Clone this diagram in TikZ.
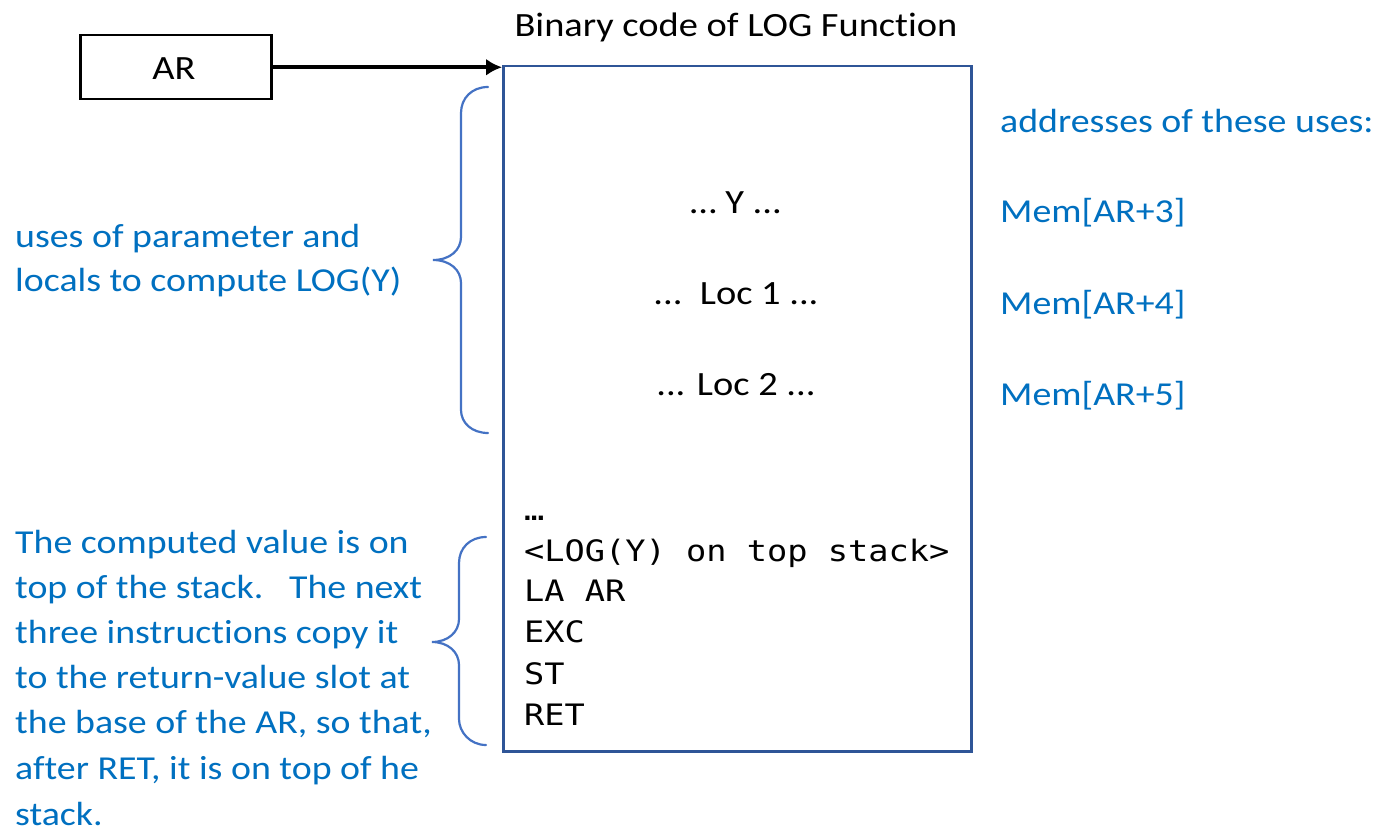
\documentclass[tikz,border=0pt]{standalone}
\usepackage{fontspec}
\setmainfont{Carlito}[FakeStretch=1.13, Ligatures={NoCommon,NoContextual}, RawFeature={-liga;-dlig;-clig}]
\newfontfamily\codemono{DejaVu Sans Mono}[FakeStretch=1.14]
\usetikzlibrary{arrows.meta}
\definecolor{txtblue}{HTML}{0070C0}
\definecolor{braceblue}{HTML}{4472C4}
\definecolor{boxblue}{HTML}{2F5597}
\tikzset{
  bluetxt/.style={text=txtblue, inner sep=0, anchor=base west, font=\fontsize{33.5}{40}\selectfont},
  blacktxt/.style={text=black, inner sep=0, anchor=base, font=\fontsize{34}{40}\selectfont},
  codetxt/.style={text=black, inner sep=0, anchor=base west, font=\codemono\fontsize{29.5}{36}\selectfont},
  bracestyle/.style={draw=braceblue, line width=2.2pt, line cap=round},
}
\begin{document}
\begin{tikzpicture}[x=1pt,y=-1pt]
\useasboundingbox[fill=white] (0,0) rectangle (1383,832);

% AR box and arrow
\node[draw=black, line width=2.5pt, minimum width=191pt, minimum height=64pt, anchor=north west, inner sep=0] (ar) at (79,34) {};
\node[blacktxt] (artxt) at (174,80) {AR};

% code box
\node[draw=boxblue, line width=2.5pt, minimum width=468pt, minimum height=685pt, anchor=north west, inner sep=0] (code) at (502,65) {};
\draw[line width=4.5pt, -{Latex[length=16pt,width=17pt]}] (ar.east) -- (ar.east -| code.west);

\node[blacktxt] (title) at (736,37) {Binary code of LOG Function};

% middle texts
\node[blacktxt] (usey) at (736,213) {… Y ...};
\node[blacktxt] (useloc1) at (736,304) {...\ \ Loc 1 ...};
\node[blacktxt] (useloc2) at (736,395) {... Loc 2 ...};

% code lines
\node[codetxt] (c0) at (524,520) {…};
\node[codetxt] (c1) at (524,561) {<LOG(Y) on top stack>};
\node[codetxt] (c2) at (524,601) {LA AR};
\node[codetxt] (c3) at (524,642) {EXC};
\node[codetxt] (c4) at (524,684) {ST};
\node[codetxt] (c5) at (524,725) {RET};

% right addresses
\node[bluetxt] (addr) at (1000,132) {addresses of these uses:};
\node[bluetxt] (m3) at (1000,222) {Mem[AR+3]};
\node[bluetxt] (m4) at (1000,314) {Mem[AR+4]};
\node[bluetxt] (m5) at (1000,405) {Mem[AR+5]};

% left upper text
\node[bluetxt] (u1) at (15,247) {uses of parameter and};
\node[bluetxt] (u2) at (15,291) {locals to compute LOG(Y)};

% left lower text
\node[bluetxt] (l1) at (15,553) {The computed value is on};
\node[bluetxt] (l2) at (15,598) {top of the stack.\ \ \ The next};
\node[bluetxt] (l3) at (15,643) {three instructions copy it};
\node[bluetxt] (l4) at (15,688) {to the return-value slot at};
\node[bluetxt] (l5) at (15,733) {the base of the AR, so that,};
\node[bluetxt] (l6) at (15,779) {after RET, it is on top of he};
\node[bluetxt] (l7) at (15,825) {stack.};

% braces
\draw[bracestyle] (488,87) .. controls (472,87) and (461,98) .. (461,113) -- (461,237)
  .. controls (461,250) and (450,260) .. (433,260)
  .. controls (450,260) and (461,270) .. (461,283) -- (461,410)
  .. controls (461,423) and (472,433) .. (488,433);
\draw[bracestyle] (486,537) .. controls (470,537) and (459,548) .. (459,563) -- (459,619)
  .. controls (459,632) and (448,642) .. (432,642)
  .. controls (448,642) and (459,652) .. (459,665) -- (459,719)
  .. controls (459,732) and (470,745) .. (486,745);
\end{tikzpicture}
\end{document}
